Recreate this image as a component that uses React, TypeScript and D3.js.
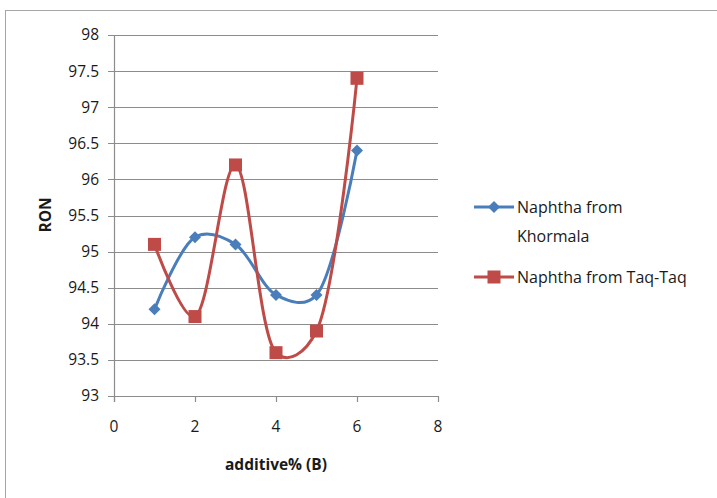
import React from "react";
import * as d3 from "d3";

const xValues = [1, 2, 3, 4, 5, 6];
const khormala = [94.2, 95.2, 95.1, 94.4, 94.4, 96.4];
const taqtaq = [95.1, 94.1, 96.2, 93.6, 93.9, 97.4];
const xTicks = [0, 2, 4, 6, 8];
const yTicks = [93, 93.5, 94, 94.5, 95, 95.5, 96, 96.5, 97, 97.5, 98];
const seriesNames = ["Naphtha from Khormala", "Naphtha from Taq-Taq"];

const BLUE = "#4A7EBB";
const RED = "#BE4B48";
const FONT = "'Open Sans', 'Noto Sans', sans-serif";

export default function App() {
  const W = 717, H = 498;
  const x = d3.scaleLinear().domain([0, 8]).range([114, 438]);
  const y = d3.scaleLinear().domain([93, 98]).range([396, 35]);
  const line = d3
    .line<[number, number]>()
    .x((d) => x(d[0]))
    .y((d) => y(d[1]))
    .curve(d3.curveCatmullRom.alpha(0.3));
  const k: [number, number][] = xValues.map((v, i) => [v, khormala[i]]);
  const t: [number, number][] = xValues.map((v, i) => [v, taqtaq[i]]);
  const diamond = (cx: number, cy: number, r: number) =>
    `M${cx},${cy - r}L${cx + r},${cy}L${cx},${cy + r}L${cx - r},${cy}Z`;
  const textColor = "#1a1a1a";
  return (
    <svg
      width={W}
      height={H}
      style={{ position: "absolute", left: 0, top: 0, background: "#fff" }}
    >
      <rect x={5.5} y={10.5} width={730} height={500} fill="#fff" stroke="#a6a6a6" strokeWidth={1} />
      {yTicks.map((v) => (
        <g key={v}>
          <line x1={108} x2={438} y1={Math.round(y(v)) + 0.5} y2={Math.round(y(v)) + 0.5} stroke="#8c8c8c" strokeWidth={1.2} />
          <text x={99} y={y(v)} dy="0.35em" textAnchor="end" fontFamily={FONT} fontSize={15.5} fill={textColor}>
            {v}
          </text>
        </g>
      ))}
      <line x1={114.5} x2={114.5} y1={35} y2={402} stroke="#8c8c8c" strokeWidth={1.2} />
      {xTicks.map((v) => (
        <g key={v}>
          <line x1={Math.round(x(v)) + 0.5} x2={Math.round(x(v)) + 0.5} y1={396} y2={402} stroke="#8c8c8c" strokeWidth={1.2} />
          <text x={x(v)} y={427} dy="0.35em" textAnchor="middle" fontFamily={FONT} fontSize={15.5} fill={textColor}>
            {v}
          </text>
        </g>
      ))}
      <text x={276} y={465} dy="0.35em" textAnchor="middle" fontFamily={FONT} fontSize={15.5} fontWeight="bold" fill={textColor}>
        additive% (B)
      </text>
      <text
        transform={`translate(46,215) rotate(-90)`}
        dy="0.35em"
        textAnchor="middle"
        fontFamily={FONT}
        fontSize={15.5}
        fontWeight="bold"
        fill={textColor}
      >
        RON
      </text>
      <path d={line(k) || ""} fill="none" stroke={BLUE} strokeWidth={3} />
      <path d={line(t) || ""} fill="none" stroke={RED} strokeWidth={3} />
      {k.map((d, i) => (
        <path key={"k" + i} d={diamond(x(d[0]), y(d[1]), 6)} fill={BLUE} />
      ))}
      {t.map((d, i) => (
        <rect key={"t" + i} x={x(d[0]) - 6.5} y={y(d[1]) - 6.5} width={13} height={13} fill={RED} />
      ))}
      {/* legend */}
      <line x1={474} x2={514} y1={207} y2={207} stroke={BLUE} strokeWidth={3} />
      <path d={diamond(494, 207, 6)} fill={BLUE} />
      <text x={517} y={207} dy="0.35em" fontFamily={FONT} fontSize={16} fill={textColor}>
        Naphtha from
      </text>
      <text x={517} y={236} dy="0.35em" fontFamily={FONT} fontSize={16} fill={textColor}>
        Khormala
      </text>
      <line x1={474} x2={514} y1={277} y2={277} stroke={RED} strokeWidth={3} />
      <rect x={487.5} y={270.5} width={13} height={13} fill={RED} />
      <text x={517} y={277} dy="0.35em" fontFamily={FONT} fontSize={16} fill={textColor}>
        {seriesNames[1]}
      </text>
    </svg>
  );
}
